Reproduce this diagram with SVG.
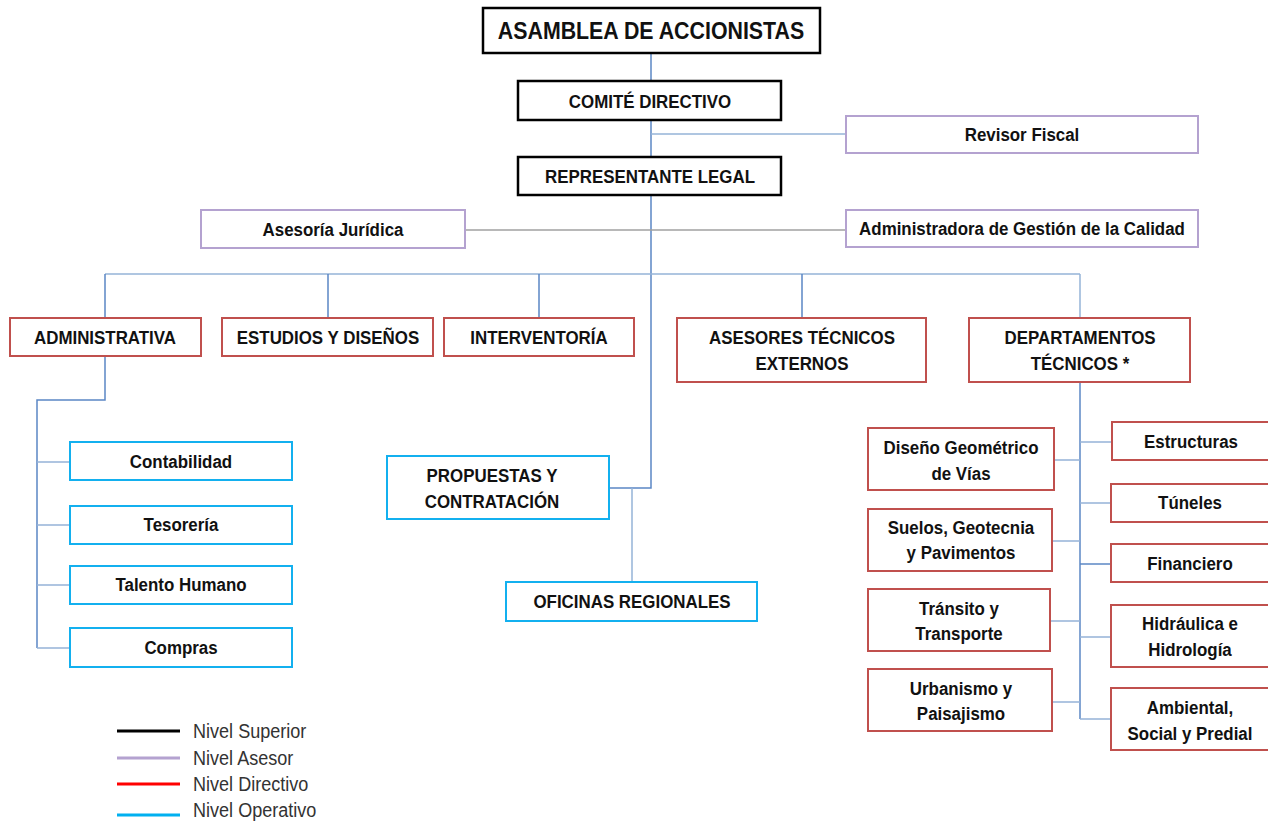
<svg xmlns="http://www.w3.org/2000/svg" width="1268" height="821" viewBox="0 0 1268 821">
  <style>
    .box { fill: #ffffff; stroke-width: 2; }
    .sup { stroke: #000000; stroke-width: 2.5; }
    .ase { stroke: #b4a2d0; }
    .dir { stroke: #c0504d; }
    .ope { stroke: #13b0ef; }
    /* condensed bold labels: Liberation Sans squeezed horizontally */
    .t { font-family: "Liberation Sans Narrow", "Liberation Sans", Arial, sans-serif; font-weight: bold; font-size: 19px; fill: #111111; text-anchor: middle; }
    .big { font-size: 24px; }
    .lk { fill: none; stroke: #5b87c5; stroke-width: 1.5; }
    .lk2 { fill: none; stroke: #95b3d7; stroke-width: 1.5; }
    .lkg { fill: none; stroke: #a0a0a0; stroke-width: 1.5; }
    .lg { font-family: "Liberation Sans Narrow", "Liberation Sans", Arial, sans-serif; font-size: 21px; fill: #333333; }
  </style>

  <!-- connectors -->
  <g id="connectors">
    <path class="lk" d="M651 53 V81"/>
    <path class="lk" d="M651 120 V157"/>
    <path class="lk2" d="M651 134 H846"/>
    <path class="lk" d="M651 195 V488 H610"/>
    <path class="lkg" d="M465 230 H846"/>
    <path class="lk2" d="M105 274 H1080"/>
    <path class="lk" d="M105 274 V318 M328 274 V318 M539 274 V318 M802 274 V318"/>
    <path class="lk2" d="M1080 274 V318"/>
    <path class="lk" d="M105 356 V400 H37 V648"/>
    <path class="lk2" d="M37 462 H70 M37 525 H70 M37 585 H70 M37 648 H70"/>
    <path class="lk2" d="M632 488 V582"/>
    <path class="lk" d="M1080 382 V719"/>
    <path class="lk2" d="M1054 460 H1080 M1052 541 H1080 M1050 621 H1080 M1052 702 H1080"/>
    <path class="lk2" d="M1080 442 H1112 M1080 503 H1111 M1080 637 H1111 M1080 719 H1111"/>
    <path class="lk" d="M1080 564 H1111"/>
  </g>

  <!-- top level -->
  <g id="asamblea">
    <rect class="box sup" x="483" y="8" width="337" height="45"/>
    <text class="t big" transform="translate(651 39) scale(0.89 1)">ASAMBLEA DE ACCIONISTAS</text>
  </g>
  <g id="comite">
    <rect class="box sup" x="518" y="81" width="263" height="39"/>
    <text class="t" transform="translate(650 108) scale(0.89 1)">COMITÉ DIRECTIVO</text>
  </g>
  <g id="representante">
    <rect class="box sup" x="518" y="157" width="263" height="38"/>
    <text class="t" transform="translate(650 183) scale(0.89 1)">REPRESENTANTE LEGAL</text>
  </g>

  <!-- advisory -->
  <g id="revisor">
    <rect class="box ase" x="846" y="116" width="352" height="37"/>
    <text class="t" transform="translate(1022 141) scale(0.89 1)">Revisor Fiscal</text>
  </g>
  <g id="asesoria">
    <rect class="box ase" x="201" y="210" width="264" height="38"/>
    <text class="t" transform="translate(333 236) scale(0.89 1)">Asesoría Jurídica</text>
  </g>
  <g id="calidad">
    <rect class="box ase" x="846" y="210" width="352" height="37"/>
    <text class="t" transform="translate(1022 235) scale(0.89 1)">Administradora de Gestión de la Calidad</text>
  </g>

  <!-- directive -->
  <g id="administrativa">
    <rect class="box dir" x="10" y="318" width="191" height="38"/>
    <text class="t" transform="translate(105 344) scale(0.89 1)">ADMINISTRATIVA</text>
  </g>
  <g id="estudios">
    <rect class="box dir" x="222" y="318" width="211" height="38"/>
    <text class="t" transform="translate(328 344) scale(0.89 1)">ESTUDIOS Y DISEÑOS</text>
  </g>
  <g id="interventoria">
    <rect class="box dir" x="444" y="318" width="190" height="38"/>
    <text class="t" transform="translate(539 344) scale(0.89 1)">INTERVENTORÍA</text>
  </g>
  <g id="asesores">
    <rect class="box dir" x="677" y="318" width="249" height="64"/>
    <text class="t" transform="translate(802 344) scale(0.89 1)">ASESORES TÉCNICOS</text>
    <text class="t" transform="translate(802 370) scale(0.89 1)">EXTERNOS</text>
  </g>
  <g id="departamentos">
    <rect class="box dir" x="969" y="318" width="221" height="64"/>
    <text class="t" transform="translate(1080 344) scale(0.89 1)">DEPARTAMENTOS</text>
    <text class="t" transform="translate(1080 370) scale(0.89 1)">TÉCNICOS *</text>
  </g>

  <!-- operative: administrativa -->
  <g id="contabilidad">
    <rect class="box ope" x="70" y="442" width="222" height="38"/>
    <text class="t" transform="translate(181 468) scale(0.89 1)">Contabilidad</text>
  </g>
  <g id="tesoreria">
    <rect class="box ope" x="70" y="506" width="222" height="38"/>
    <text class="t" transform="translate(181 531) scale(0.89 1)">Tesorería</text>
  </g>
  <g id="talento">
    <rect class="box ope" x="70" y="566" width="222" height="38"/>
    <text class="t" transform="translate(181 591) scale(0.89 1)">Talento Humano</text>
  </g>
  <g id="compras">
    <rect class="box ope" x="70" y="628" width="222" height="39"/>
    <text class="t" transform="translate(181 654) scale(0.89 1)">Compras</text>
  </g>

  <!-- operative: representante -->
  <g id="propuestas">
    <rect class="box ope" x="387" y="456" width="222" height="63"/>
    <text class="t" transform="translate(492 482) scale(0.89 1)">PROPUESTAS Y</text>
    <text class="t" transform="translate(492 508) scale(0.89 1)">CONTRATACIÓN</text>
  </g>
  <g id="oficinas">
    <rect class="box ope" x="506" y="582" width="251" height="39"/>
    <text class="t" transform="translate(632 608) scale(0.89 1)">OFICINAS REGIONALES</text>
  </g>

  <!-- departamentos técnicos -->
  <g id="diseno">
    <rect class="box dir" x="868" y="428" width="186" height="62"/>
    <text class="t" transform="translate(961 454) scale(0.89 1)">Diseño Geométrico</text>
    <text class="t" transform="translate(961 480) scale(0.89 1)">de Vías</text>
  </g>
  <g id="suelos">
    <rect class="box dir" x="868" y="509" width="184" height="62"/>
    <text class="t" transform="translate(961 534) scale(0.89 1)">Suelos, Geotecnia</text>
    <text class="t" transform="translate(961 559) scale(0.89 1)">y Pavimentos</text>
  </g>
  <g id="transito">
    <rect class="box dir" x="868" y="589" width="182" height="62"/>
    <text class="t" transform="translate(959 615) scale(0.89 1)">Tránsito y</text>
    <text class="t" transform="translate(959 640) scale(0.89 1)">Transporte</text>
  </g>
  <g id="urbanismo">
    <rect class="box dir" x="868" y="669" width="184" height="62"/>
    <text class="t" transform="translate(961 695) scale(0.89 1)">Urbanismo y</text>
    <text class="t" transform="translate(961 720) scale(0.89 1)">Paisajismo</text>
  </g>
  <g id="estructuras">
    <rect class="box dir" x="1112" y="422" width="160" height="38"/>
    <text class="t" transform="translate(1191 448) scale(0.89 1)">Estructuras</text>
  </g>
  <g id="tuneles">
    <rect class="box dir" x="1111" y="484" width="161" height="38"/>
    <text class="t" transform="translate(1190 509) scale(0.89 1)">Túneles</text>
  </g>
  <g id="financiero">
    <rect class="box dir" x="1111" y="544" width="161" height="38"/>
    <text class="t" transform="translate(1190 570) scale(0.89 1)">Financiero</text>
  </g>
  <g id="hidraulica">
    <rect class="box dir" x="1111" y="605" width="161" height="62"/>
    <text class="t" transform="translate(1190 630) scale(0.89 1)">Hidráulica e</text>
    <text class="t" transform="translate(1190 656) scale(0.89 1)">Hidrología</text>
  </g>
  <g id="ambiental">
    <rect class="box dir" x="1111" y="688" width="161" height="62"/>
    <text class="t" transform="translate(1190 714) scale(0.89 1)">Ambiental,</text>
    <text class="t" transform="translate(1190 740) scale(0.89 1)">Social y Predial</text>
  </g>

  <!-- legend -->
  <g id="legend">
    <line x1="117" y1="731" x2="180" y2="731" stroke="#000000" stroke-width="3"/>
    <line x1="117" y1="758" x2="180" y2="758" stroke="#b4a2d0" stroke-width="3"/>
    <line x1="117" y1="784" x2="180" y2="784" stroke="#ff0000" stroke-width="3"/>
    <line x1="117" y1="815" x2="180" y2="815" stroke="#00b0f0" stroke-width="3"/>
    <text class="lg" transform="translate(193 738) scale(0.86 1)">Nivel Superior</text>
    <text class="lg" transform="translate(193 765) scale(0.86 1)">Nivel Asesor</text>
    <text class="lg" transform="translate(193 791) scale(0.86 1)">Nivel Directivo</text>
    <text class="lg" transform="translate(193 817) scale(0.86 1)">Nivel Operativo</text>
  </g>
</svg>
